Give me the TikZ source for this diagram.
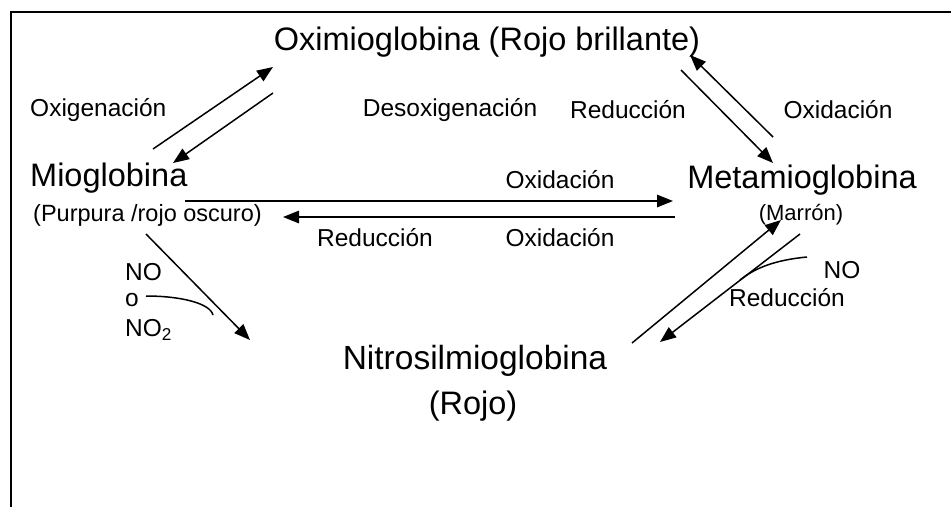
\documentclass[tikz,border=0pt]{standalone}
\usepackage{fontspec}
\setmainfont{Liberation Sans}
\usetikzlibrary{arrows.meta}
\begin{document}
\begin{tikzpicture}[x=1pt,y=-1pt,
  big/.style={font=\fontsize{32.5}{36}\selectfont, inner sep=0pt},
  small/.style={font=\fontsize{24.5}{28}\selectfont, inner sep=0pt},
  tiny/.style={font=\fontsize{22}{24}\selectfont, inner sep=0pt},
  arr/.style={line width=1.5pt, -{Triangle[length=16pt,width=12.5pt]}},
  ln/.style={line width=1.5pt}]
\useasboundingbox (0,0) rectangle (951,507);
\draw[line width=2.2pt] (11,507) -- (11,12) -- (951,12);
% main labels
\node[big] (oxi) at (487,42) {Oximioglobina (Rojo brillante)};
\node[big,anchor=west] (mio) at (30,178) {Mioglobina};
\node[small,anchor=west,font=\fontsize{23.5}{28}\selectfont] (miosub) at (33,215) {(Purpura /rojo oscuro)};
\node[big] (meta) at (802,180) {Metamioglobina};
\node[tiny] (metasub) at (801,215) {(Marrón)};
\node[big,font=\fontsize{33.5}{36}\selectfont] (nitro) at (475,361) {Nitrosilmioglobina};
\node[big] (nitrosub) at (473,406) {(Rojo)};
% reaction labels
\node[small,anchor=west] (l1) at (30,110) {Oxigenación};
\node[small] (l2) at (450,110) {Desoxigenación};
\node[small] (l3) at (628,110) {Reducción};
\node[small] (l4) at (838,110) {Oxidación};
\node[small] (l5) at (560,180) {Oxidación};
\node[small] (l6) at (375,238) {Reducción};
\node[small] (l7) at (560,238) {Oxidación};
\node[small,anchor=west] (l8) at (125,272) {NO};
\node[small,anchor=west] (l9) at (125,300) {o};
\node[small,anchor=west] (l10) at (125,330) {NO\textsubscript{2}};
\node[small] (l11) at (842,270) {NO};
\node[small] (l12) at (787,298) {Reducción};
% arrow endpoints
\coordinate (a1s) at (153,149); \coordinate (a1e) at (273,67);
\coordinate (a2s) at (273,93);  \coordinate (a2e) at (173,163);
\coordinate (a3s) at (773,137); \coordinate (a3e) at (690,55);
\coordinate (a4s) at (681,70);  \coordinate (a4e) at (773,163);
\coordinate (h1s) at (185,201); \coordinate (h1e) at (673,201);
\coordinate (h2s) at (675,217); \coordinate (h2e) at (283,217);
\coordinate (d1s) at (146,234); \coordinate (d1e) at (250,340);
\coordinate (r1s) at (632,343); \coordinate (r1e) at (781,220);
\coordinate (r2s) at (800,234); \coordinate (r2e) at (660,342);
\coordinate (c1s) at (146,296); \coordinate (c1e) at (213,315);
\coordinate (c2s) at (807,257); \coordinate (c2e) at (740,280);
\draw[arr] (a1s) -- (a1e);
\draw[arr] (a2s) -- (a2e);
\draw[arr] (a3s) -- (a3e);
\draw[arr] (a4s) -- (a4e);
\draw[arr] (h1s) -- (h1e);
\draw[arr] (h2s) -- (h2e);
\draw[arr] (d1s) -- (d1e);
\draw[arr] (r1s) -- (r1e);
\draw[arr] (r2s) -- (r2e);
\draw[ln] (c1s) .. controls (180,296) and (210,303) .. (c1e);
\draw[ln] (c2s) .. controls (775,260) and (755,268) .. (c2e);
\end{tikzpicture}
\end{document}
